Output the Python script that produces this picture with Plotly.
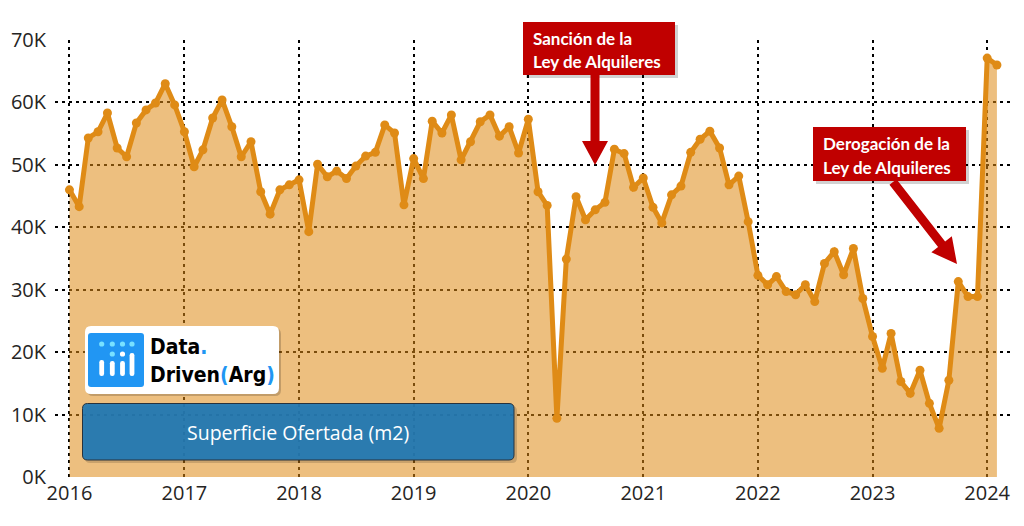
import pandas as pd
import plotly.graph_objects as go

# ---------------- data ----------------
start_month = "2016-01-01"
values_k = [
    46.0, 43.3, 54.3, 55.3, 58.3, 52.7, 51.3, 56.7, 58.8, 59.9, 63.0, 59.6,   # 2016
    55.3, 49.7, 52.4, 57.5, 60.4, 56.1, 51.3, 53.7, 45.7, 42.1, 46.0, 46.8,   # 2017
    47.6, 39.3, 50.1, 48.1, 49.0, 47.8, 49.8, 51.4, 52.0, 56.4, 55.1, 43.6,   # 2018
    51.0, 47.8, 57.0, 55.1, 58.0, 50.8, 53.7, 56.9, 58.0, 54.6, 56.1, 51.9,   # 2019
    57.3, 45.7, 43.5, 9.4, 34.9, 44.9, 41.2, 42.8, 44.0, 52.5, 51.8, 46.4,    # 2020
    47.9, 43.2, 40.7, 45.2, 46.6, 52.0, 54.1, 55.4, 52.7, 46.8, 48.2, 40.9,   # 2021
    32.3, 30.8, 32.1, 29.7, 29.2, 30.8, 28.1, 34.2, 36.1, 32.4, 36.6, 28.6,   # 2022
    22.5, 17.4, 23.0, 15.3, 13.4, 17.1, 11.8, 7.8, 15.5, 31.3, 28.9, 28.9,    # 2023
    67.1, 66.0,                                                               # 2024
]
months = pd.date_range(start_month, periods=len(values_k), freq="MS")
values = [v * 1000 for v in values_k]

y_tickvals = [0, 10000, 20000, 30000, 40000, 50000, 60000, 70000]
y_ticktext = ["0K", "10K", "20K", "30K", "40K", "50K", "60K", "70K"]
series_name = "Superficie Ofertada (m2)"
note_1 = ["Sanción de la", "Ley de Alquileres"]
note_2 = ["Derogación de la", "Ley de Alquileres"]

# ---------------- layout geometry (pixels) ----------------
W, H = 1024, 526
ML, MR, MT, MB = 55, 12, 40, 49
PW, PH = W - ML - MR, H - MT - MB


def px(x):
    return (x - ML) / PW


def py(y):
    return (H - MB - y) / PH


def rect(x0, y0, x1, y1, fill):
    return dict(type="rect", xref="paper", yref="paper",
                x0=px(x0), x1=px(x1), y0=py(y1), y1=py(y0),
                fillcolor=fill, line=dict(width=0), layer="above")


def rrect(x0, y0, x1, y1, r, fill, line="rgba(0,0,0,0)", lw=0):
    def P(x, y):
        return f"{px(x)},{py(y)}"
    path = (f"M {P(x0 + r, y0)} L {P(x1 - r, y0)} Q {P(x1, y0)} {P(x1, y0 + r)} "
            f"L {P(x1, y1 - r)} Q {P(x1, y1)} {P(x1 - r, y1)} "
            f"L {P(x0 + r, y1)} Q {P(x0, y1)} {P(x0, y1 - r)} "
            f"L {P(x0, y0 + r)} Q {P(x0, y0)} {P(x0 + r, y0)} Z")
    return dict(type="path", xref="paper", yref="paper", path=path,
                fillcolor=fill, line=dict(color=line, width=lw), layer="above")


def poly(points, fill):
    path = "M " + " L ".join(f"{px(x)},{py(y)}" for x, y in points) + " Z"
    return dict(type="path", xref="paper", yref="paper", path=path,
                fillcolor=fill, line=dict(width=0), layer="above")


def circ(cx, cy, r, fill):
    return dict(type="circle", xref="paper", yref="paper",
                x0=px(cx - r), x1=px(cx + r), y0=py(cy + r), y1=py(cy - r),
                fillcolor=fill, line=dict(width=0), layer="above")


LINE_C = "rgb(223,139,22)"
FILL_C = "rgba(223,139,22,0.55)"
RED = "rgb(192,0,0)"

fig = go.Figure()
fig.add_trace(go.Scatter(
    x=months, y=values, name=series_name, mode="lines+markers",
    line=dict(color=LINE_C, width=5),
    marker=dict(color=LINE_C, size=9),
    fill="tozeroy", fillcolor=FILL_C, cliponaxis=False,
    showlegend=False,
))

shapes = []
# red annotation boxes
shapes.append(rect(526, 25, 678, 78, "rgba(0,0,0,0.18)"))
shapes.append(rect(523, 22, 675, 75, RED))
shapes.append(rect(816, 130, 969, 184, "rgba(0,0,0,0.18)"))
shapes.append(rect(813, 127, 966, 181, RED))
# arrow 1 (vertical)
shapes.append(poly([(590.5, 75), (599.5, 75), (599.5, 141), (608, 141),
                    (595, 165), (582, 141), (590.5, 141)], RED))
# arrow 2 (diagonal)
nx, ny = -0.787, 0.617
sx, sy = 893, 182
bx, by = 941.6, 244.3
tx, ty = 957, 264
hw, hh = 4.5, 13
shapes.append(poly([
    (sx + nx * hw, sy + ny * hw), (bx + nx * hw, by + ny * hw),
    (bx + nx * hh, by + ny * hh), (tx, ty), (bx - nx * hh, by - ny * hh),
    (bx - nx * hw, by - ny * hw), (sx - nx * hw, sy - ny * hw)], RED))
# logo box
shapes.append(rrect(87, 328, 281, 396, 6, "rgba(0,0,0,0.18)"))
shapes.append(rrect(85, 326, 279, 394, 6, "white"))
shapes.append(rrect(88, 333, 144, 387, 3, "rgb(33,150,243)"))
dot_c = "rgb(120,225,255)"
for cx in [101.7, 112.3, 122.5, 132.0]:
    shapes.append(circ(cx, 344, 2.6, dot_c))
shapes.append(circ(112.3, 354, 2.6, dot_c))
shapes.append(circ(122.5, 354, 2.6, "white"))
for cx, ytop in [(101.7, 360), (112.3, 361), (122.5, 361), (132.0, 353)]:
    shapes.append(rrect(cx - 2.4, ytop, cx + 2.4, 376, 2.2, "white"))
# series button
shapes.append(rrect(85, 406, 517, 463, 5, "rgba(0,0,0,0.15)"))
shapes.append(rrect(82.5, 403.5, 514, 460, 5, "rgba(31,119,180,0.93)",
                    line="rgb(40,50,60)", lw=1))

annotations = []
for i, t in enumerate(note_1):
    annotations.append(dict(x=px(531), y=py(38.5 + 23.5 * i), xref="paper", yref="paper",
                            text=f"<b>{t}</b>", showarrow=False, xanchor="left",
                            yanchor="middle",
                            font=dict(family="Lato", size=17, color="white")))
for i, t in enumerate(note_2):
    annotations.append(dict(x=px(821), y=py(143.5 + 23.5 * i), xref="paper", yref="paper",
                            text=f"<b>{t}</b>", showarrow=False, xanchor="left",
                            yanchor="middle",
                            font=dict(family="Lato", size=17, color="white")))
BLUE_TXT = "rgb(33,150,243)"
LOGO_FONT = "DejaVu Sans Condensed"
annotations.append(dict(x=px(148), y=py(347), xref="paper", yref="paper",
                        text=f"<b>Data<span style='color:{BLUE_TXT}'>.</span></b>",
                        showarrow=False, xanchor="left", yanchor="middle",
                        font=dict(family=LOGO_FONT, size=21, color="black")))
annotations.append(dict(x=px(148), y=py(375), xref="paper", yref="paper",
                        text=f"<b>Driven<span style='color:{BLUE_TXT}'>(</span>Arg"
                             f"<span style='color:{BLUE_TXT}'>)</span></b>",
                        showarrow=False, xanchor="left", yanchor="middle",
                        font=dict(family=LOGO_FONT, size=21, color="black")))
annotations.append(dict(x=px(298), y=py(432), xref="paper", yref="paper",
                        text=series_name, showarrow=False, xanchor="center",
                        yanchor="middle",
                        font=dict(family="Open Sans", size=19.5, color="white")))

grid_dash = "3px,4px"
TICK_FONT = dict(family="Open Sans", size=20, color="#252423")
fig.update_layout(
    width=W, height=H,
    margin=dict(l=ML, r=MR, t=MT, b=MB, pad=0, autoexpand=False),
    paper_bgcolor="white", plot_bgcolor="white",
    shapes=shapes, annotations=annotations,
    font=TICK_FONT,
    xaxis=dict(
        type="date", automargin=False,
        range=["2015-11-16", "2024-03-20"],
        dtick="M12", tick0="2016-01-01", tickformat="%Y",
        showgrid=True, gridcolor="black", gridwidth=2, griddash=grid_dash,
        zeroline=False, showline=False, ticks="",
        tickfont=TICK_FONT, ticklabelstandoff=2,
    ),
    yaxis=dict(
        range=[0, 70000], automargin=False,
        tickvals=y_tickvals, ticktext=y_ticktext,
        showgrid=True, gridcolor="black", gridwidth=2, griddash=grid_dash,
        zeroline=False, showline=False, ticks="",
        tickfont=TICK_FONT, ticklabelstandoff=8,
    ),
)

fig.write_html("out.html",
               config={"displayModeBar": False},
               post_script="document.body.style.margin='0';"
                           "document.body.style.padding='0';")
